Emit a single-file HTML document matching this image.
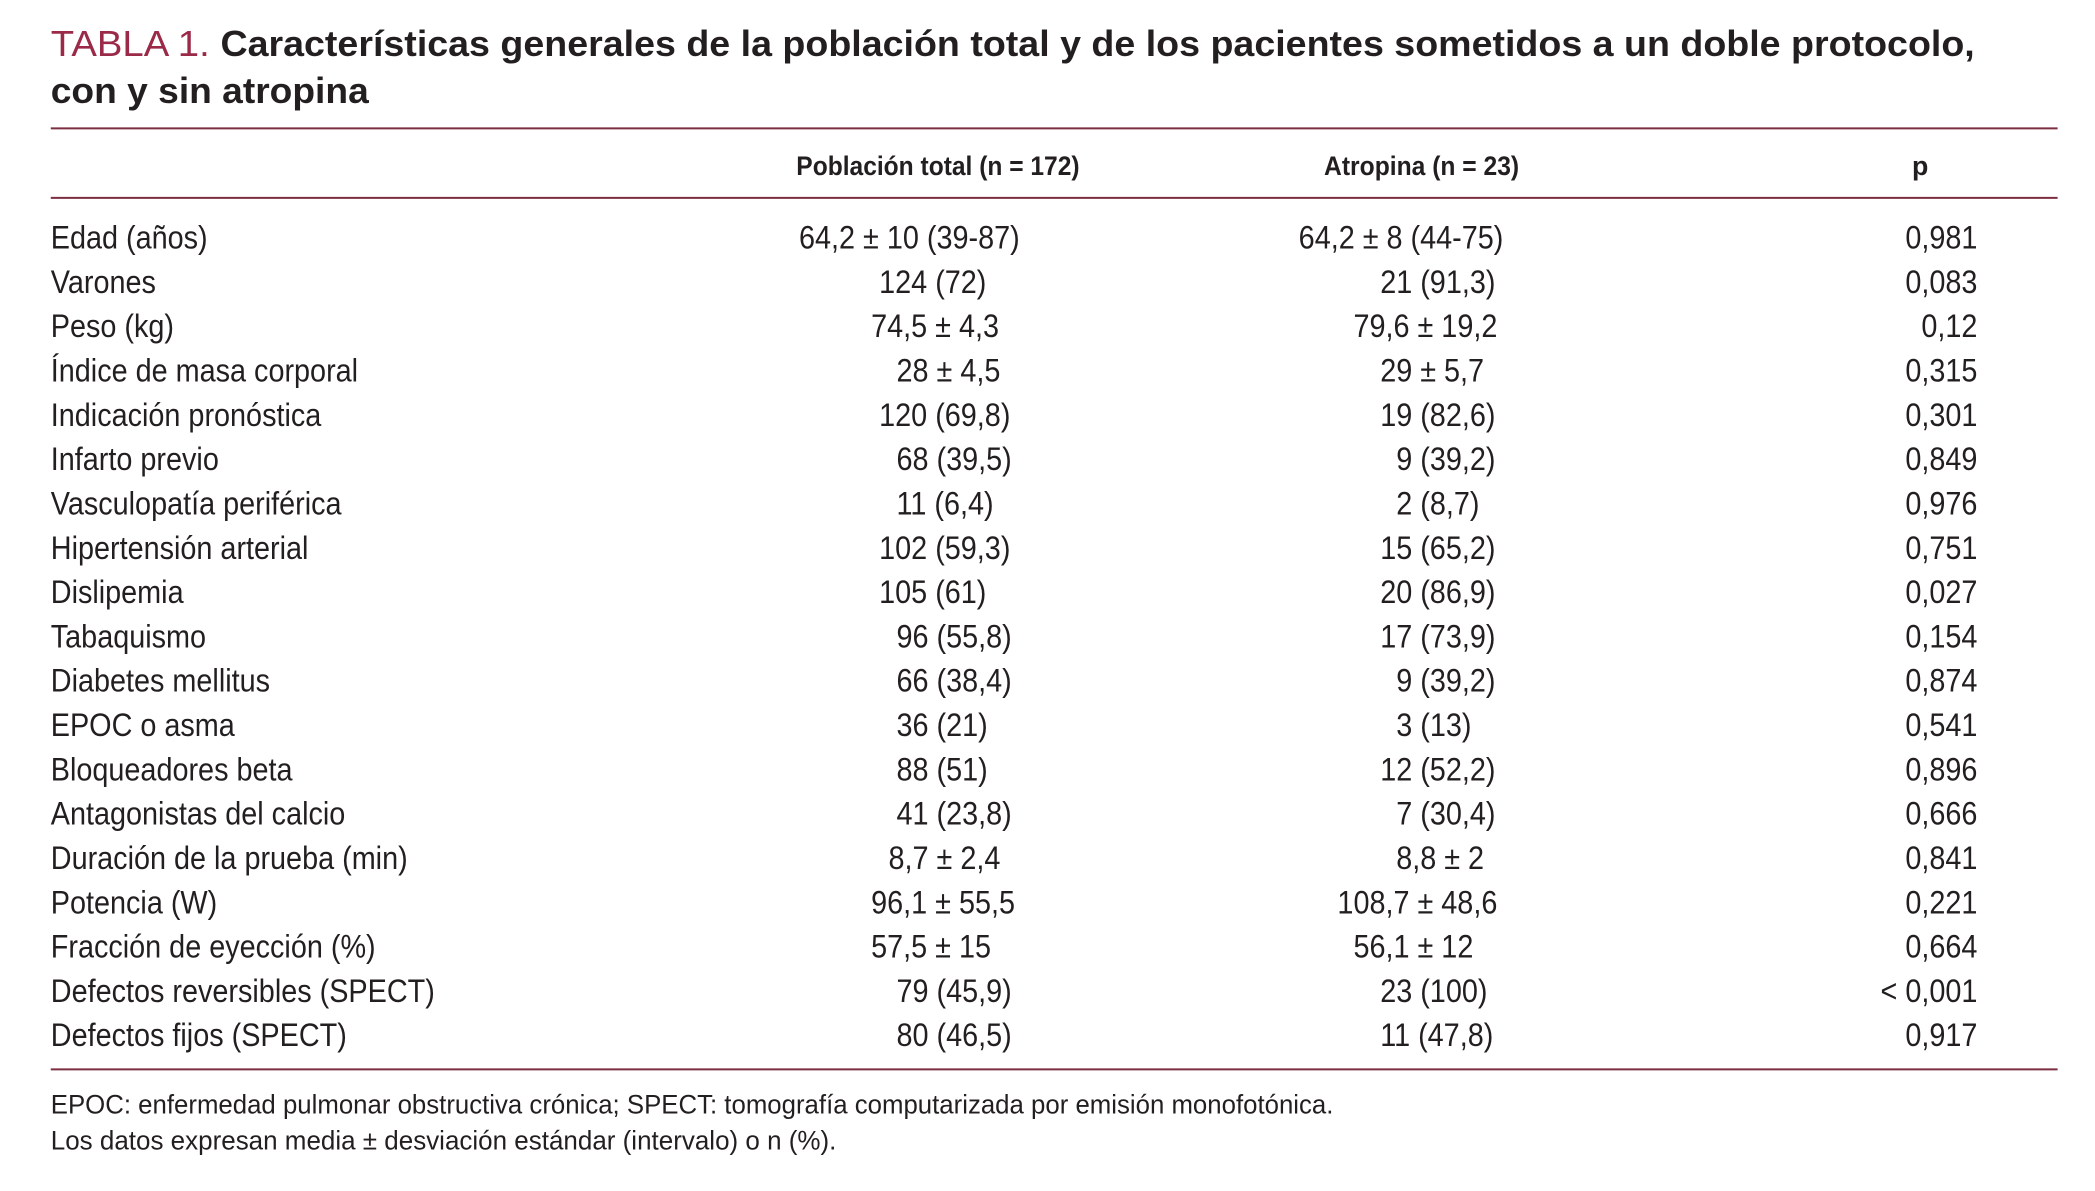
<!DOCTYPE html>
<html><head><meta charset="utf-8"><style>
html,body{margin:0;padding:0;background:#fff;}
svg{display:block;}
text{font-family:"Liberation Sans",sans-serif;fill:#231f20;}
</style></head><body>
<svg id="tbl" width="2095" height="1191" viewBox="0 0 1568 891" preserveAspectRatio="none" xmlns="http://www.w3.org/2000/svg">
<text x="38" y="42" font-size="27" textLength="119" lengthAdjust="spacingAndGlyphs" style="fill:#9b2a48">TABLA 1.</text>
<text x="165" y="42" font-size="27" font-weight="bold" textLength="1313" lengthAdjust="spacingAndGlyphs">Características generales de la población total y de los pacientes sometidos a un doble protocolo,</text>
<text x="38" y="77" font-size="27" font-weight="bold" textLength="238" lengthAdjust="spacingAndGlyphs">con y sin atropina</text>
<line x1="38" x2="1540" y1="96" y2="96" stroke="#7d2f42" stroke-width="1.5"/>
<text x="596" y="131" font-size="20" font-weight="bold" textLength="212" lengthAdjust="spacingAndGlyphs">Población total (n = 172)</text>
<text x="991" y="131" font-size="20" font-weight="bold" textLength="146" lengthAdjust="spacingAndGlyphs">Atropina (n = 23)</text>
<text x="1431" y="131" font-size="20" font-weight="bold">p</text>
<line x1="38" x2="1540" y1="148" y2="148" stroke="#7d2f42" stroke-width="1.5"/>
<g id="rows"></g>
<line x1="38" x2="1540" y1="800" y2="800" stroke="#7d2f42" stroke-width="1.5"/>
<text x="38" y="833" font-size="20" textLength="960" lengthAdjust="spacingAndGlyphs">EPOC: enfermedad pulmonar obstructiva crónica; SPECT: tomografía computarizada por emisión monofotónica.</text>
<text x="38" y="860" font-size="20" textLength="588" lengthAdjust="spacingAndGlyphs">Los datos expresan media ± desviación estándar (intervalo) o n (%).</text>
</svg>
<script>
const labels = ["Edad (años)","Varones","Peso (kg)","Índice de masa corporal","Indicación pronóstica","Infarto previo","Vasculopatía periférica","Hipertensión arterial","Dislipemia","Tabaquismo","Diabetes mellitus","EPOC o asma","Bloqueadores beta","Antagonistas del calcio","Duración de la prueba (min)","Potencia (W)","Fracción de eyección (%)","Defectos reversibles (SPECT)","Defectos fijos (SPECT)"];
const totalValues = ["64,2 ± 10 (39-87)","124 (72)","74,5 ± 4,3","28 ± 4,5","120 (69,8)","68 (39,5)","11 (6,4)","102 (59,3)","105 (61)","96 (55,8)","66 (38,4)","36 (21)","88 (51)","41 (23,8)","8,7 ± 2,4","96,1 ± 55,5","57,5 ± 15","79 (45,9)","80 (46,5)"];
const atropinaValues = ["64,2 ± 8 (44-75)","21 (91,3)","79,6 ± 19,2","29 ± 5,7","19 (82,6)","9 (39,2)","2 (8,7)","15 (65,2)","20 (86,9)","17 (73,9)","9 (39,2)","3 (13)","12 (52,2)","7 (30,4)","8,8 ± 2","108,7 ± 48,6","56,1 ± 12","23 (100)","11 (47,8)"];
const pValues = ["0,981","0,083","0,12","0,315","0,301","0,849","0,976","0,751","0,027","0,154","0,874","0,541","0,896","0,666","0,841","0,221","0,664","< 0,001","0,917"];
const totalStart = [598,658,652,671,658,671,671,658,658,671,671,671,671,671,665,652,652,671,671];
const atropinaStart = [972,1033,1013,1033,1033,1045,1045,1033,1033,1033,1045,1045,1033,1045,1045,1001,1013,1033,1033];
const NS="http://www.w3.org/2000/svg";
const g=document.getElementById('rows');
const sx=0.88, y0=186, step=33.15;
function mk(txt,x,y,anchor){
  const t=document.createElementNS(NS,'text');
  t.textContent=txt;
  t.setAttribute('font-size','24.5');
  t.setAttribute('transform','translate('+x+','+y+') scale('+sx+',1)');
  if(anchor) t.setAttribute('text-anchor',anchor);
  g.appendChild(t);
  return t;
}
labels.forEach((l,i)=>{
  const y=y0+i*step;
  const a=mk(l,38,y);
  
  
  const b=mk(totalValues[i],totalStart[i],y);
  
  
  const c=mk(atropinaValues[i],atropinaStart[i],y);
  
  
  const d=mk(pValues[i],1480,y,'end');
  
  
});
</script>
</body></html>
